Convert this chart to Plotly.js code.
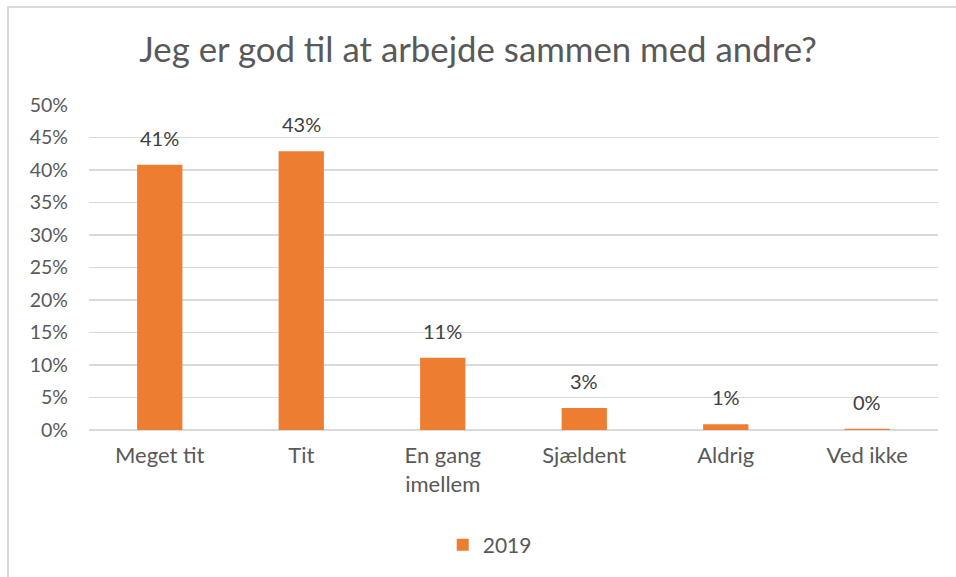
<!DOCTYPE html>
<html>
<head>
<meta charset="utf-8">
<script src="https://cdn.plot.ly/plotly-3.0.1.min.js"></script>
<style>
html,body{margin:0;padding:0;background:#fff;overflow:hidden;}
#frame{position:absolute;left:7px;top:6px;width:1000px;height:700px;border-top:2px solid #d9d9d9;border-left:2px solid #d9d9d9;}
#chart{position:absolute;left:0;top:0;width:956px;height:577px;}
</style>
</head>
<body>
<div id="frame"></div>
<div id="chart"></div>
<script>
const categories = ["Meget tit", "Tit", "En gang<br>imellem", "Sjældent", "Aldrig", "Ved ikke"];
const values2019 = [0.408, 0.429, 0.111, 0.034, 0.009, 0.002];
const labels2019 = ["41%", "43%", "11%", "3%", "1%", "0%"];
const yTickVals = [0, 0.05, 0.1, 0.15, 0.2, 0.25, 0.3, 0.35, 0.4, 0.45, 0.5];
const yTickText = ["0%", "5%", "10%", "15%", "20%", "25%", "30%", "35%", "40%", "45%", "50%"];

const font = "Lato, 'Open Sans', sans-serif";
const trace = {
  type: "bar",
  name: "2019",
  x: categories,
  y: values2019,
  marker: {color: "#ed7d31"},
  width: 0.32,
  hoverinfo: "none"
};
const annotations = categories.map((c, i) => ({
  x: c, y: values2019[i], xref: "x", yref: "y",
  text: labels2019[i], showarrow: false,
  yanchor: "bottom", yshift: 13,
  font: {family: font, size: 20, color: "#404040"}
}));
const layout = {
  width: 956, height: 577,
  paper_bgcolor: "rgba(0,0,0,0)",
  plot_bgcolor: "rgba(0,0,0,0)",
  margin: {l: 89, r: 18, t: 105, b: 147},
  title: {text: "Jeg er god til at arbejde sammen med andre?", font: {family: font, size: 34.8, color: "#595959"}, x: 0.5, xanchor: "center", y: 0.913, yanchor: "middle"},
  font: {family: font, color: "#595959"},
  xaxis: {type: "category", tickfont: {family: font, size: 22, color: "#595959"}, showgrid: false, zeroline: false, showline: false, ticks: "", ticklen: 0, ticklabelstandoff: 10},
  yaxis: {range: [0, 0.5], tickvals: yTickVals, ticktext: yTickText, tickfont: {family: font, size: 19.5, color: "#595959"}, showgrid: true, gridcolor: "#d9d9d9", gridwidth: 1.3, zeroline: true, zerolinecolor: "#d9d9d9", zerolinewidth: 1.3, showline: false, ticks: "", ticklabelstandoff: 20},
  annotations: annotations,
  showlegend: true,
  legend: {orientation: "h", x: 0.472, xanchor: "center", y: -0.354, yanchor: "middle", font: {family: font, size: 21, color: "#595959"}},
  bargap: 0.68
};
Plotly.newPlot("chart", [trace], layout, {displayModeBar: false, staticPlot: true});
</script>
</body>
</html>
